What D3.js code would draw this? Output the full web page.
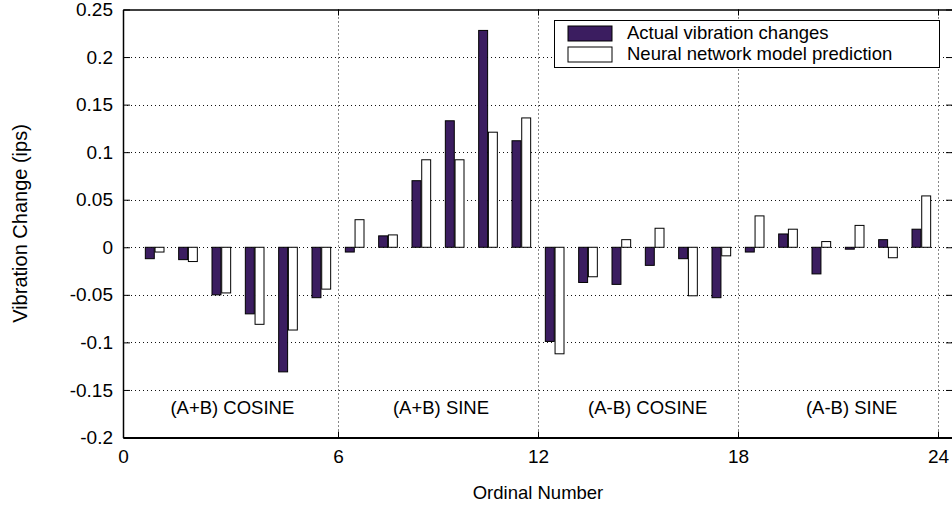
<!DOCTYPE html>
<html lang="en">
<head>
    <meta charset="UTF-8">
    <title>Vibration change</title>
    <script src="https://cdn.jsdelivr.net/npm/d3@7"></script>
    <style>
        body { margin: 0; background: #fff; }
        text { font-family: "Liberation Sans", Arial, sans-serif; fill: #000; }
    </style>
</head>
<body>
<div id="chart"></div>

<script>
    // ordinal numbers of the 24 test cases
    var ordinals = [1, 2, 3, 4, 5, 6, 7, 8, 9, 10, 11, 12,
                    13, 14, 15, 16, 17, 18, 19, 20, 21, 22, 23, 24];

    // measured vibration change (ips)
    var actual = [-0.012, -0.013, -0.050, -0.070, -0.131, -0.053,
                  -0.005, 0.012, 0.070, 0.133, 0.228, 0.112,
                  -0.099, -0.037, -0.039, -0.019, -0.012, -0.053,
                  -0.005, 0.014, -0.028, -0.002, 0.008, 0.019];

    // neural network prediction (ips)
    var predicted = [-0.005, -0.015, -0.048, -0.081, -0.087, -0.044,
                     0.029, 0.013, 0.092, 0.092, 0.121, 0.136,
                     -0.112, -0.031, 0.008, 0.020, -0.051, -0.009,
                     0.033, 0.019, 0.006, 0.023, -0.011, 0.054];

    var seriesNames = ["Actual vibration changes", "Neural network model prediction"];
    var groupNames = ["(A+B) COSINE", "(A+B) SINE", "(A-B) COSINE", "(A-B) SINE"];
    var xTickLabels = ["0", "6", "12", "18", "24"];
    var yTicks = [-0.2, -0.15, -0.1, -0.05, 0, 0.05, 0.1, 0.15, 0.2, 0.25];

    // layout (plotTop etc. - "top" is taken by window.top)
    var width = 952, height = 506;
    var plotLeft = 123, plotRight = 953, plotTop = 9.5, plotBottom = 437.5;
    var darkFill = "#3b1d60";
    var groupLabelX = [2.83, 9.09, 15.29, 21.41];

    var svg = d3.select("#chart").append("svg")
        .attr("width", width)
        .attr("height", height);

    var x = d3.scaleLinear().domain([-0.45, 24.45]).range([plotLeft, plotRight]);
    var y = d3.scaleLinear().domain([-0.2, 0.25]).range([plotBottom, plotTop]);
    var sub = d3.scaleBand().domain([0, 1]).range([-0.78, -0.22]).paddingInner(0.08);

    var fmt = function(d) { return String(+d.toFixed(2)); };

    // grid
    var grid = svg.append("g").attr("class", "grid")
        .attr("stroke", "#111")
        .attr("stroke-width", 1)
        .attr("stroke-dasharray", "1,3");

    grid.selectAll("line.h")
        .data(yTicks.slice(1, -1))
        .enter().append("line")
        .attr("class", "h")
        .attr("x1", plotLeft).attr("x2", plotRight)
        .attr("y1", function(d) { return Math.round(y(d)) + 0.5; })
        .attr("y2", function(d) { return Math.round(y(d)) + 0.5; });

    grid.selectAll("line.v")
        .data([6, 12, 18, 24])
        .enter().append("line")
        .attr("class", "v")
        .attr("y1", plotTop).attr("y2", plotBottom)
        .attr("x1", function(d) { return Math.round(x(d)) + 0.5; })
        .attr("x2", function(d) { return Math.round(x(d)) + 0.5; });

    // bars
    var rows = ordinals.map(function(o, i) {
        return {o: o, vals: [actual[i], predicted[i]]};
    });

    var groups = svg.selectAll("g.case")
        .data(rows)
        .enter().append("g")
        .attr("class", "case");

    groups.selectAll("rect")
        .data(function(d) {
            return d.vals.map(function(v, k) { return {o: d.o, v: v, k: k}; });
        })
        .enter().append("rect")
        .attr("x", function(d) { return x(d.o + sub(d.k)); })
        .attr("width", function(d) { return x(d.o + sub(d.k) + sub.bandwidth()) - x(d.o + sub(d.k)); })
        .attr("y", function(d) { return y(Math.max(0, d.v)); })
        .attr("height", function(d) { return Math.abs(y(d.v) - y(0)); })
        .attr("fill", function(d) { return d.k === 0 ? darkFill : "#fff"; })
        .attr("stroke", "#000")
        .attr("stroke-width", 1);

    // group labels
    svg.selectAll("text.group")
        .data(groupNames)
        .enter().append("text")
        .attr("class", "group")
        .attr("x", function(d, i) { return x(groupLabelX[i]); })
        .attr("y", y(-0.1755))
        .attr("text-anchor", "middle")
        .attr("font-size", 18.5)
        .text(function(d) { return d; });

    // axes
    var xAxis = d3.axisBottom(x)
        .tickValues([x.domain()[0], 6, 12, 18, 24])
        .tickFormat(function(d, i) { return xTickLabels[i]; })
        .tickSizeInner(-6).tickSizeOuter(0).tickPadding(12);

    var gx = svg.append("g")
        .attr("transform", "translate(0," + plotBottom + ")")
        .call(xAxis);
    gx.select(".domain").attr("stroke-width", 2);
    gx.selectAll("text").attr("font-size", 19).attr("font-family", null);

    var xTop = d3.axisTop(x).tickValues([6, 12, 18, 24])
        .tickFormat("").tickSizeInner(-6).tickSizeOuter(0);
    var gxt = svg.append("g")
        .attr("transform", "translate(0," + plotTop + ")")
        .call(xTop);
    gxt.select(".domain").attr("stroke-width", 1.5);

    var yAxis = d3.axisLeft(y).tickValues(yTicks)
        .tickFormat(fmt)
        .tickSizeInner(-7).tickSizeOuter(0).tickPadding(10);
    var gy = svg.append("g")
        .attr("transform", "translate(" + plotLeft + ",0)")
        .call(yAxis);
    gy.select(".domain").attr("stroke-width", 1.5);
    gy.selectAll("text").attr("font-size", 19).attr("font-family", null);

    var yRight = d3.axisRight(y).tickValues(yTicks)
        .tickFormat("").tickSizeInner(-7).tickSizeOuter(0);
    svg.append("g")
        .attr("transform", "translate(" + plotRight + ",0)")
        .call(yRight);

    // axis titles
    svg.append("text")
        .attr("x", (plotLeft + plotRight) / 2)
        .attr("y", 499)
        .attr("text-anchor", "middle")
        .attr("font-size", 18.5)
        .text("Ordinal Number");

    svg.append("text")
        .attr("transform", "translate(27," + (plotTop + plotBottom) / 2 + ") rotate(-90)")
        .attr("text-anchor", "middle")
        .attr("font-size", 20)
        .text("Vibration Change (ips)");

    // legend
    var legend = svg.append("g").attr("class", "legend");
    legend.append("rect")
        .attr("x", 554.5).attr("y", 20.5)
        .attr("width", 385).attr("height", 47)
        .attr("fill", "#fff").attr("stroke", "#000").attr("stroke-width", 1);

    var items = legend.selectAll("g.item")
        .data(seriesNames)
        .enter().append("g")
        .attr("class", "item")
        .attr("transform", function(d, i) { return "translate(0," + (i * 21) + ")"; });

    items.append("rect")
        .attr("x", 568).attr("y", 26)
        .attr("width", 44).attr("height", 15)
        .attr("fill", function(d, i) { return i === 0 ? darkFill : "#fff"; })
        .attr("stroke", "#000").attr("stroke-width", 1);

    items.append("text")
        .attr("x", 627).attr("y", 39)
        .attr("font-size", 18.5)
        .text(function(d) { return d; });
</script>
</body>
</html>
